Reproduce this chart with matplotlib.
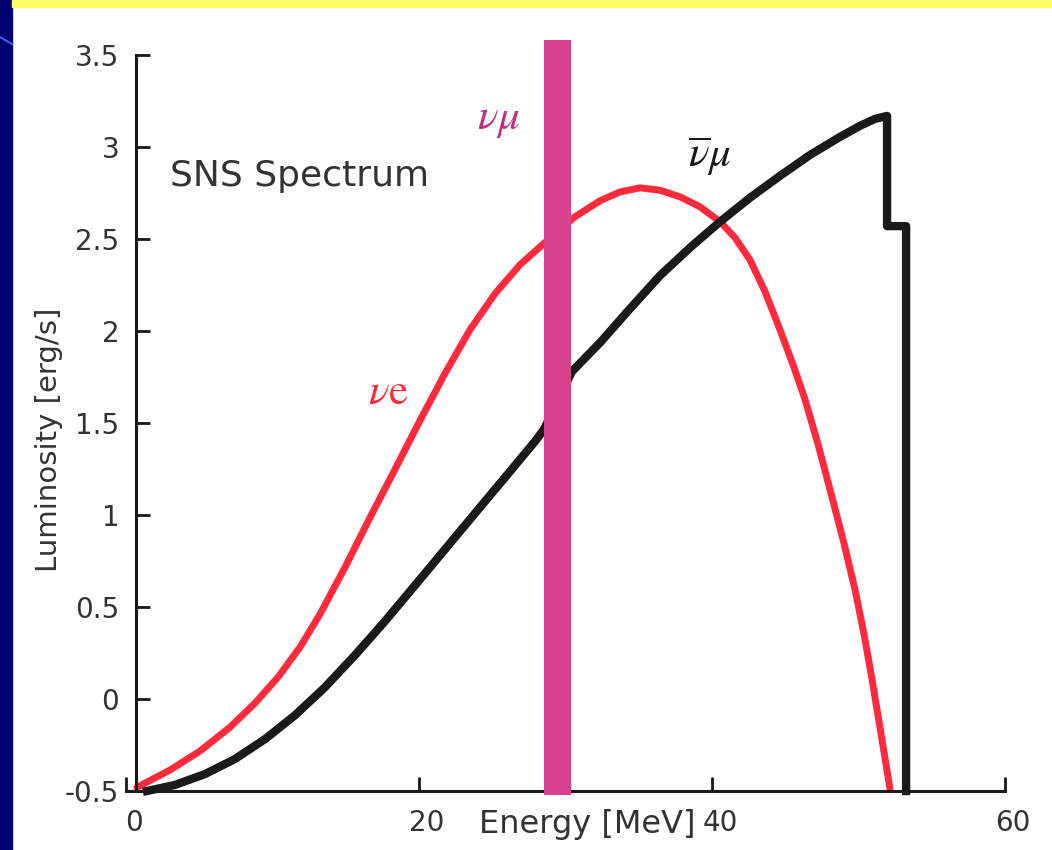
import numpy as np
import matplotlib.pyplot as plt
import matplotlib.transforms as mtransforms
from matplotlib.patches import Rectangle
from matplotlib.lines import Line2D

plt.rcParams['font.family'] = ['DejaVu Sans']
plt.rcParams['mathtext.fontset'] = 'stix'

# nu_e spectrum (red)
nue_energy = [0.75, 3.0, 5.05, 7.1, 8.81, 10.38, 11.88, 13.24, 14.95, 16.66, 18.36, 20.07,
              21.77, 23.48, 25.19, 26.89, 28.81, 30.65, 32.36, 33.72, 35.09, 36.45, 37.82,
              39.18, 40.55, 41.57, 42.59, 43.62, 44.64, 45.53, 46.35, 47.24, 48.05, 48.94,
              49.76, 50.38, 50.92, 51.54, 52.15]
nue_lum = [-0.48, -0.386, -0.283, -0.153, -0.022, 0.119, 0.282, 0.461, 0.716, 0.987, 1.248,
           1.514, 1.769, 2.007, 2.203, 2.36, 2.496, 2.621, 2.708, 2.756, 2.778, 2.765, 2.729,
           2.675, 2.594, 2.507, 2.387, 2.214, 2.007, 1.817, 1.628, 1.384, 1.139, 0.868,
           0.596, 0.352, 0.108, -0.19, -0.489]

# anti nu_mu spectrum (black)
numubar_energy = [1.43, 3.34, 5.39, 7.44, 9.49, 11.54, 13.58, 15.63, 17.68, 19.73, 21.77,
                  23.82, 25.87, 27.92, 28.53, 30.44, 32.36, 34.4, 36.45, 38.5, 40.55, 42.59,
                  44.64, 46.69, 48.74, 50.1, 51.13, 51.95, 51.95, 53.25, 53.25]
numubar_lum = [-0.5, -0.467, -0.408, -0.326, -0.218, -0.088, 0.064, 0.238, 0.423, 0.618,
               0.813, 1.009, 1.204, 1.4, 1.465, 1.78, 1.937, 2.121, 2.301, 2.453, 2.594,
               2.724, 2.843, 2.957, 3.055, 3.115, 3.153, 3.169, 2.57, 2.57, -0.5]

# nu_mu monoenergetic line (magenta band)
numu_energy = 29.45
numu_width = 1.85
numu_low, numu_high = -0.52, 3.58

xticks = [0, 20, 40, 60]
yticks = [-0.5, 0, 0.5, 1, 1.5, 2, 2.5, 3, 3.5]

W, H = 1052, 850
fig = plt.figure(figsize=(W / 100, H / 100), dpi=100)
fig.patch.set_facecolor('white')

# slide decorations
fig.patches.append(Rectangle((0, 0), 12 / W, 1, transform=fig.transFigure,
                             color='#000070', zorder=0))
fig.patches.append(Rectangle((12 / W, 1 - 7 / H), 1, 7 / H, transform=fig.transFigure,
                             color='#ffff66', zorder=0))
fig.lines.append(Line2D([0, 12 / W], [1 - 37 / H, 1 - 44 / H], transform=fig.transFigure,
                        color='#3b5bff', lw=1.5))

ax = fig.add_axes([126 / W, 1 - 791 / H, (1005 - 126) / W, (791 - 55) / H])
ax.set_xlim(0, 60)
ax.set_ylim(-0.5, 3.5)

ax.plot(nue_energy, nue_lum, color='#ff2a3c', lw=5, solid_joinstyle='round',
        solid_capstyle='round', clip_on=False, zorder=2)
ax.plot(numubar_energy, numubar_lum, color='#1a1a1a', lw=6, solid_joinstyle='round',
        clip_on=False, zorder=2)
ax.bar(numu_energy, numu_high - numu_low, bottom=numu_low, width=numu_width,
       color='#d8428c', clip_on=False, zorder=3)

for s in ['top', 'right']:
    ax.spines[s].set_visible(False)
ax.spines['left'].set_position(('data', 0.68))
ax.spines['left'].set_linewidth(2.2)
ax.spines['bottom'].set_linewidth(2.2)
ax.spines['left'].set_color('#1a1a1a')
ax.spines['bottom'].set_color('#1a1a1a')

ax.set_xticks(xticks)
ax.set_xticklabels([str(t) for t in xticks])
ax.set_yticks(yticks)
ax.set_yticklabels(['%g' % t for t in yticks])
ax.tick_params(direction='in', length=10, width=2, color='#1a1a1a',
               labelsize=20, labelcolor='#333333')
ax.tick_params(axis='y', pad=12)
ax.tick_params(axis='x', pad=13)
offset = mtransforms.ScaledTranslation(8 / 100, 0, fig.dpi_scale_trans)
for lab in ax.get_xticklabels():
    lab.set_transform(lab.get_transform() + offset)

ax.set_xlabel('Energy [MeV]', fontsize=23, color='#333333')
ax.xaxis.set_label_coords(0.5245, -0.0245)
ax.set_ylabel('Luminosity [erg/s]', fontsize=21, color='#333333')
ax.yaxis.set_label_coords(-0.0717, 0.477)

ax.text(3.0, 2.79, 'SNS Spectrum', fontsize=26, color='#333333', va='baseline')
ax.text(25.4, 3.15, r'$\nu\mu$', fontsize=31, color='#c0307f', ha='center', va='center')
ax.text(39.8, 2.95, r'$\overline{\nu}\mu$', fontsize=31, color='#1a1a1a', ha='center', va='center')
ax.text(17.9, 1.67, r'$\nu\mathrm{e}$', fontsize=31, color='#ff2a3c', ha='center', va='center')

fig.savefig('out.png', dpi=100)
